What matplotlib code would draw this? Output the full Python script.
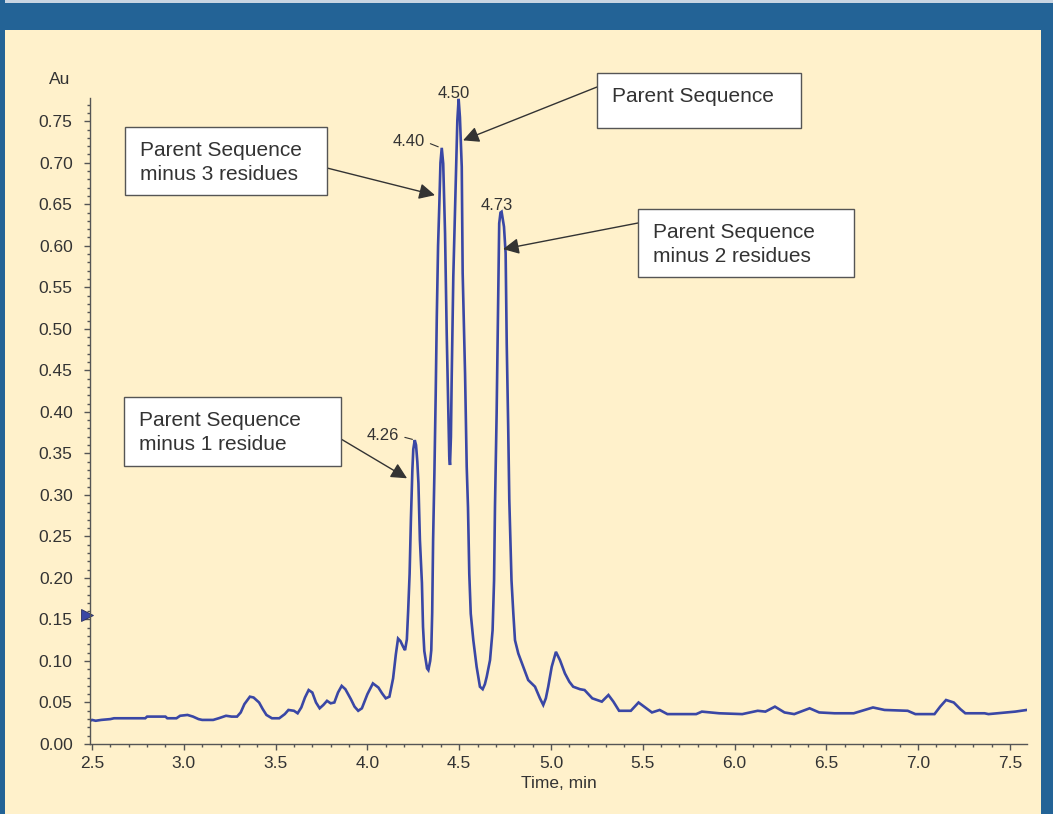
import numpy as np
import matplotlib.pyplot as plt
from matplotlib.patches import Rectangle
from matplotlib.ticker import MultipleLocator, FormatStrFormatter

plt.rcParams['font.family'] = ['Liberation Sans', 'DejaVu Sans']

# chromatogram trace
time_min = [2.49, 2.50, 2.52, 2.55, 2.60, 2.62, 2.70, 2.79, 2.80, 2.90, 2.91, 2.96, 2.98,
            3.02, 3.05, 3.08, 3.10, 3.16, 3.19, 3.23, 3.26, 3.29, 3.31, 3.33, 3.36, 3.38,
            3.41, 3.43, 3.45, 3.48, 3.52, 3.55, 3.57, 3.60, 3.62, 3.64, 3.66, 3.68, 3.70,
            3.72, 3.74, 3.76, 3.78, 3.80, 3.82, 3.84, 3.86, 3.88, 3.91, 3.93, 3.95, 3.97,
            4.00, 4.03, 4.06, 4.08, 4.10, 4.12, 4.14, 4.155, 4.167, 4.18, 4.195, 4.205,
            4.215, 4.222, 4.23, 4.237, 4.245, 4.25, 4.258, 4.265, 4.272, 4.278, 4.286,
            4.297, 4.303, 4.310, 4.325, 4.332, 4.342, 4.348, 4.353, 4.358, 4.365, 4.372,
            4.378, 4.385, 4.392, 4.398, 4.405, 4.413, 4.423, 4.432, 4.441, 4.446, 4.450,
            4.455, 4.459, 4.468, 4.476, 4.483, 4.490, 4.497, 4.504, 4.514, 4.519, 4.532,
            4.541, 4.548, 4.555, 4.563, 4.577, 4.595, 4.613, 4.628, 4.640, 4.650, 4.668,
            4.682, 4.690, 4.695, 4.704, 4.713, 4.718, 4.725, 4.731, 4.744, 4.753, 4.759,
            4.767, 4.773, 4.785, 4.795, 4.804, 4.822, 4.849, 4.876, 4.913, 4.940, 4.958,
            4.972, 4.985, 5.004, 5.027, 5.049, 5.076, 5.100, 5.121, 5.158, 5.183, 5.225,
            5.277, 5.313, 5.340, 5.371, 5.435, 5.477, 5.519, 5.550, 5.592, 5.634, 5.791,
            5.822, 5.916, 6.042, 6.126, 6.168, 6.220, 6.272, 6.325, 6.409, 6.461, 6.545,
            6.649, 6.754, 6.817, 6.943, 6.985, 7.089, 7.120, 7.152, 7.194, 7.230, 7.257,
            7.362, 7.383, 7.529, 7.592]
absorbance = [0.028, 0.029, 0.028, 0.029, 0.030, 0.031, 0.031, 0.031, 0.033, 0.033, 0.031, 0.031, 0.034,
              0.035, 0.033, 0.030, 0.029, 0.029, 0.031, 0.034, 0.033, 0.033, 0.038, 0.048, 0.057, 0.056,
              0.050, 0.042, 0.035, 0.031, 0.031, 0.036, 0.041, 0.040, 0.037, 0.044, 0.056, 0.065, 0.062,
              0.050, 0.043, 0.047, 0.052, 0.049, 0.050, 0.062, 0.070, 0.066, 0.054, 0.045, 0.040, 0.043,
              0.060, 0.073, 0.068, 0.061, 0.055, 0.057, 0.079, 0.108, 0.127, 0.124, 0.117, 0.113,
              0.126, 0.160, 0.205, 0.270, 0.330, 0.355, 0.366, 0.360, 0.340, 0.314, 0.246,
              0.194, 0.141, 0.112, 0.091, 0.089, 0.100, 0.113, 0.158, 0.246, 0.326, 0.420,
              0.514, 0.600, 0.651, 0.700, 0.718, 0.699, 0.615, 0.495, 0.398, 0.346, 0.336,
              0.370, 0.438, 0.563, 0.630, 0.687, 0.751, 0.777, 0.755, 0.695, 0.567, 0.446,
              0.334, 0.285, 0.205, 0.157, 0.125, 0.093, 0.069, 0.066, 0.072, 0.081, 0.101,
              0.137, 0.197, 0.286, 0.398, 0.543, 0.627, 0.640, 0.641, 0.623, 0.591, 0.482,
              0.382, 0.294, 0.197, 0.157, 0.125, 0.109, 0.093, 0.077, 0.069, 0.055, 0.047,
              0.055, 0.069, 0.093, 0.111, 0.101, 0.085, 0.075, 0.069, 0.066, 0.065, 0.055,
              0.051, 0.059, 0.051, 0.040, 0.040, 0.050, 0.043, 0.038, 0.041, 0.036, 0.036,
              0.039, 0.037, 0.036, 0.040, 0.039, 0.045, 0.038, 0.036, 0.043, 0.038, 0.037,
              0.037, 0.044, 0.041, 0.040, 0.036, 0.036, 0.045, 0.053, 0.050, 0.042, 0.037,
              0.037, 0.036, 0.039, 0.041]

# labelled peaks
peak_labels = ['4.26', '4.40', '4.50', '4.73']
peak_times = [4.26, 4.40, 4.50, 4.73]
peak_heights = [0.366, 0.718, 0.777, 0.641]

# callout boxes: text, box (left, top, width, height) in figure px, arrow start px, arrow tip (data)
callouts = [
    ('Parent Sequence\nminus 3 residues', (125, 127, 202, 68), (327, 168), (4.368, 0.661)),
    ('Parent Sequence', (597, 73, 204, 55), (597, 87), (4.521, 0.727)),
    ('Parent Sequence\nminus 2 residues', (638, 209, 216, 68), (638, 223), (4.739, 0.596)),
    ('Parent Sequence\nminus 1 residue', (124, 397, 217, 69), (341, 439), (4.216, 0.320)),
]

W, H = 1053, 814
cream = '#fff1cb'
blue_frame = '#236396'
trace_col = '#3a47a5'
txt_col = '#333333'
axis_col = '#555555'

fig = plt.figure(figsize=(W / 100, H / 100), dpi=100, facecolor=cream)

# blue frame around the panel
fig.patches.append(Rectangle((0, 1 - 30 / H), 1, 30 / H, transform=fig.transFigure,
                             facecolor=blue_frame, edgecolor='none', zorder=0))
fig.patches.append(Rectangle((0, 1 - 3 / H), 1, 3 / H, transform=fig.transFigure,
                             facecolor='#c9d5e2', edgecolor='none', zorder=0))
fig.patches.append(Rectangle((0, 0), 5 / W, 1, transform=fig.transFigure,
                             facecolor=blue_frame, edgecolor='none', zorder=0))
fig.patches.append(Rectangle((1041 / W, 0), 12 / W, 1 - 3 / H, transform=fig.transFigure,
                             facecolor=blue_frame, edgecolor='none', zorder=0))

ax = fig.add_axes([90 / W, 1 - 744 / H, (1027 - 90) / W, (744 - 98) / H])
ax.set_facecolor('none')

ax.plot(time_min, absorbance, color=trace_col, linewidth=1.9, solid_joinstyle='miter')

ax.set_xlim(2.489, 7.593)
ax.set_ylim(0, 0.778)
for s in ['top', 'right']:
    ax.spines[s].set_visible(False)
for s in ['left', 'bottom']:
    ax.spines[s].set_color(axis_col)
    ax.spines[s].set_linewidth(1.0)

ax.xaxis.set_major_locator(MultipleLocator(0.5))
ax.xaxis.set_minor_locator(MultipleLocator(0.1))
ax.yaxis.set_major_locator(MultipleLocator(0.05))
ax.yaxis.set_minor_locator(MultipleLocator(0.01))
ax.xaxis.set_major_formatter(FormatStrFormatter('%.1f'))
ax.yaxis.set_major_formatter(FormatStrFormatter('%.2f'))
ax.tick_params(which='major', length=4.5, width=1, color=axis_col, labelsize=12.5,
               labelcolor=txt_col)
ax.tick_params(which='minor', length=2, width=1, color=axis_col)
ax.tick_params(axis='y', which='major', pad=8)
ax.tick_params(axis='x', which='major', pad=4)

ax.set_xlabel('Time, min', fontsize=12.5, color=txt_col, labelpad=4)
fig.text(60 / W, 1 - 80 / H, 'Au', fontsize=12.5, color=txt_col, ha='center', va='center')

# small marker on the y axis
ax.plot([-0.003], [0.155], marker='>', markersize=9, color=trace_col,
        markeredgecolor='#2a2f60', markeredgewidth=0.6,
        transform=ax.get_yaxis_transform(), clip_on=False)

# peak retention-time labels
offsets = {'4.26': (-23, 3), '4.40': (-23, 4.5), '4.50': (-4, 4), '4.73': (-3.5, 4.3)}
for lab, t, h in zip(peak_labels, peak_times, peak_heights):
    dx, dy = offsets[lab]
    if lab in ('4.26', '4.40'):
        ax.annotate(lab, xy=(t, h), xytext=(dx, dy), textcoords='offset points',
                    ha='center', va='center', fontsize=12, color=txt_col,
                    arrowprops=dict(arrowstyle='-', color=txt_col, lw=0.8,
                                    relpos=(1, 0.5), shrinkA=2, shrinkB=2))
    else:
        ax.annotate(lab, xy=(t, h), xytext=(dx, dy), textcoords='offset points',
                    ha='center', va='center', fontsize=12, color=txt_col)

# callout boxes with arrows
for text, (bx, by, bw, bh), (sx, sy), tip in callouts:
    fig.patches.append(Rectangle((bx / W, 1 - (by + bh) / H), bw / W, bh / H,
                                 transform=fig.transFigure, facecolor='white',
                                 edgecolor='#555555', linewidth=1.0, zorder=5))
    fig.text((bx + 15) / W, 1 - (by + 14) / H, text, fontsize=15, color=txt_col,
             ha='left', va='top', zorder=6, linespacing=1.3)
    ax.annotate('', xy=tip, xycoords='data', xytext=(sx, H - sy),
                textcoords='figure pixels',
                arrowprops=dict(arrowstyle='-|>,head_length=0.6,head_width=0.3',
                                mutation_scale=16, color=txt_col, lw=1.0,
                                shrinkA=0, shrinkB=0))

fig.savefig('out.png', dpi=100, facecolor=cream)
